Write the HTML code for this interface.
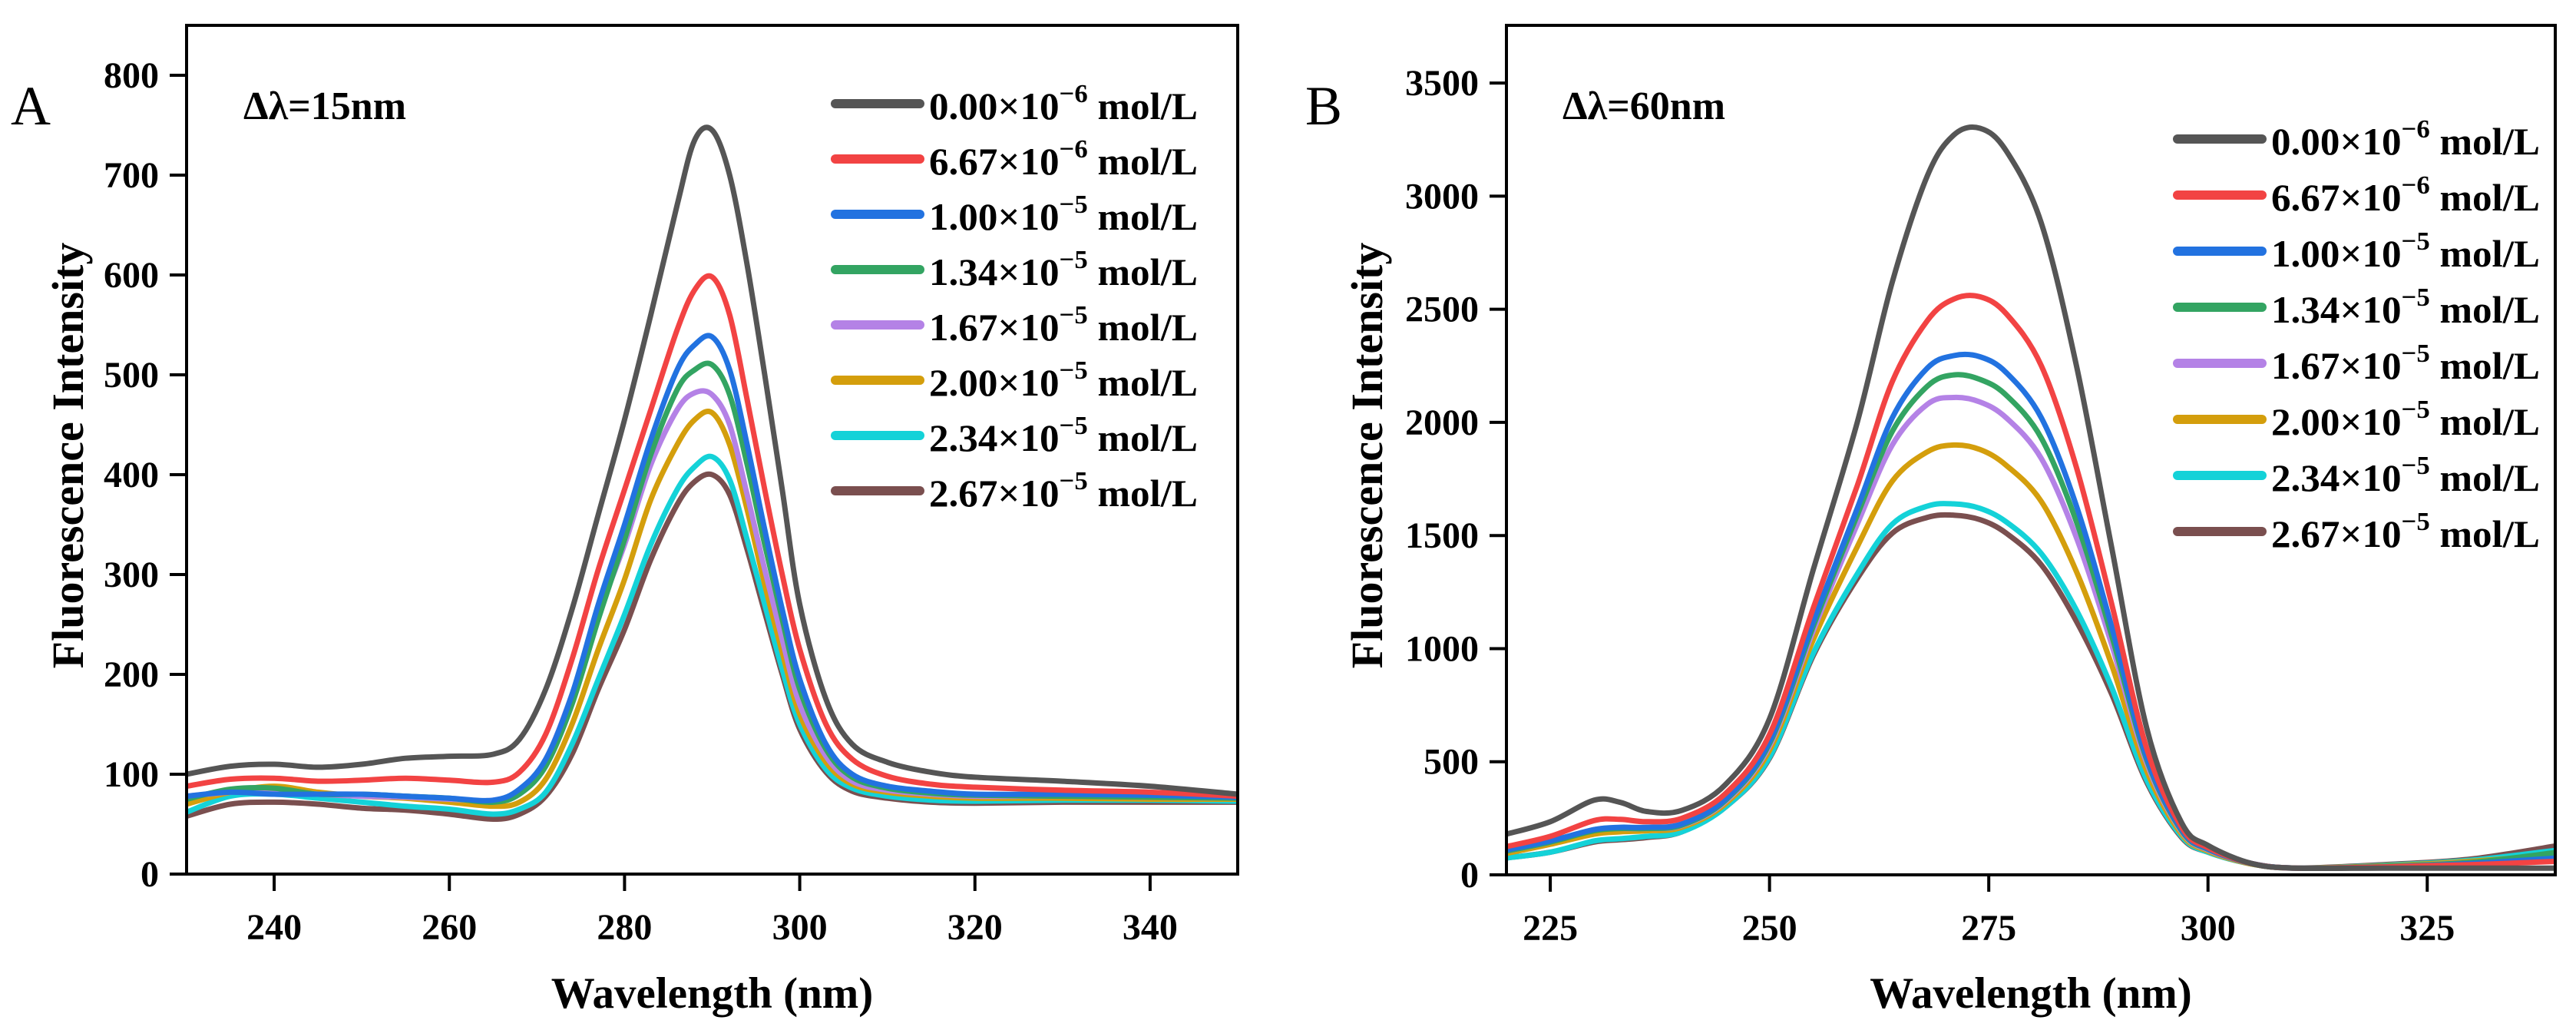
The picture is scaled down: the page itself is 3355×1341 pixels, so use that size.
<!DOCTYPE html>
<html><head><meta charset="utf-8"><style>
html,body{margin:0;padding:0;background:#fff}
svg{display:block;font-family:"Liberation Serif",serif}
</style></head><body>
<svg id="chart" width="3355" height="1341" viewBox="0 0 3355 1341" xmlns="http://www.w3.org/2000/svg">
<g id="root"></g>
</svg>
<script>
// ---------- Panel A data ----------
const xA = [230,235,240,245,250,255,260,265,268,271,274,277,280,283,286,288,290,292,294,296,298,300,303,306,310,315,320,330,340,350];
const a0 = [100,108,110,107,110,116,118,120,135,185,265,360,455,560,670,735,745,700,610,500,385,270,175,130,112,102,97,93,88,80];
const a1 = [88,95,96,93,94,96,94,92,102,140,215,305,385,465,545,585,598,560,475,385,300,225,150,115,98,90,87,84,82,78];
const a2 = [78,82,80,80,80,78,76,74,85,115,180,270,350,435,505,530,538,505,430,345,265,195,130,100,88,83,80,80,79,77];
const a3 = [75,85,86,80,80,78,76,72,80,108,170,255,335,420,485,505,510,480,410,330,255,185,125,97,86,81,79,78,77,76];
const a4 = [78,82,84,80,78,77,75,74,84,115,180,260,330,410,465,482,480,450,380,305,235,170,118,93,84,80,78,78,77,76];
const a5 = [70,82,88,82,78,76,72,68,72,95,150,225,295,375,430,455,462,430,365,290,222,160,112,90,82,78,76,76,75,75];
const a6 = [62,78,80,76,72,68,65,60,65,82,130,195,260,330,385,408,418,395,335,270,205,150,105,86,78,74,73,74,74,73];
const a7 = [58,70,72,70,66,64,60,55,60,78,120,185,245,315,370,393,400,380,325,262,200,145,102,83,76,72,71,72,72,72];
const xTicksA = [240,260,280,300,320,340];
const yTicksA = [0,100,200,300,400,500,600,700,800];
// ---------- Panel B data ----------
const xB = [220,225,230,233,236,240,245,250,255,260,264,268,271,274,277,281,285,289,293,297,300,305,310,320,330,340];
const b0 = [180,235,330,320,280,285,400,690,1350,2000,2620,3090,3270,3300,3200,2880,2250,1450,650,230,130,50,30,30,30,30];
const b1 = [125,170,240,245,235,250,360,620,1180,1720,2180,2450,2545,2555,2480,2250,1800,1200,560,210,120,50,30,35,45,60];
const b2 = [110,150,200,210,210,225,335,590,1120,1620,2020,2240,2295,2290,2220,2020,1630,1100,520,200,115,50,30,35,50,75];
const b3 = [105,145,195,205,205,220,330,580,1100,1590,1960,2160,2210,2190,2120,1930,1560,1060,510,195,113,50,30,38,55,100];
const b4 = [105,145,200,205,205,218,325,570,1080,1550,1900,2080,2110,2090,2020,1840,1490,1020,495,190,110,50,30,38,55,85];
const b5 = [95,135,180,190,195,210,315,550,1040,1450,1740,1870,1900,1880,1810,1650,1340,930,460,180,105,48,30,40,60,90];
const b6 = [75,100,150,160,170,190,300,520,980,1330,1550,1630,1640,1620,1560,1420,1170,830,420,170,100,48,30,42,65,110];
const b7 = [75,100,145,155,165,190,300,515,970,1310,1510,1580,1590,1570,1510,1370,1120,800,410,165,100,48,30,45,70,130];
const xTicksB = [225,250,275,300,325];
const yTicksB = [0,500,1000,1500,2000,2500,3000,3500];
// ---------- legend ----------
const legendMant = ["0.00","6.67","1.00","1.34","1.67","2.00","2.34","2.67"];
const legendExp = ["−6","−6","−5","−5","−5","−5","−5","−5"];
const colors = ["#555555","#f24343","#2272e0","#33a462","#b482e6","#d49e0c","#14d2d8","#7a4f4f"];

const NS="http://www.w3.org/2000/svg";
const root=document.getElementById('root');
function mk(tag,attrs,parent){const e=document.createElementNS(NS,tag);for(const k in attrs)e.setAttribute(k,attrs[k]);(parent||root).appendChild(e);return e;}
function smooth(pts){let d="M"+pts[0][0].toFixed(1)+","+pts[0][1].toFixed(1);
 for(let i=0;i<pts.length-1;i++){const p0=pts[i-1]||pts[i],p1=pts[i],p2=pts[i+1],p3=pts[i+2]||p2;
  const c1=[p1[0]+(p2[0]-p0[0])/6,p1[1]+(p2[1]-p0[1])/6],c2=[p2[0]-(p3[0]-p1[0])/6,p2[1]-(p3[1]-p1[1])/6];
  d+=" C"+c1[0].toFixed(1)+","+c1[1].toFixed(1)+" "+c2[0].toFixed(1)+","+c2[1].toFixed(1)+" "+p2[0].toFixed(1)+","+p2[1].toFixed(1);}
 return d;}

function panel(cfg){
 const g=mk('g',{});
 
 
 const sx=v=>cfg.L+(v-cfg.x0)/(cfg.x1-cfg.x0)*(cfg.R-cfg.L);
 const sy=v=>cfg.B-(v-cfg.y0)/(cfg.y1-cfg.y0)*(cfg.B-cfg.T);
 const cp=mk('clipPath',{id:cfg.name+'-clip'},g);
 mk('rect',{x:cfg.L,y:cfg.T,width:cfg.R-cfg.L,height:cfg.B-cfg.T},cp);
 const sg=mk('g',{'clip-path':'url(#'+cfg.name+'-clip)'},g);
 for(let s=cfg.series.length-1;s>=0;s--){
  const pts=cfg.xs.map((x,i)=>[sx(x),sy(cfg.series[s][i])]);
  const p=mk('path',{d:smooth(pts),fill:'none',stroke:colors[s],'stroke-width':7,'stroke-linejoin':'round'},sg);
  
  
 }
 const fr=mk('rect',{x:cfg.L,y:cfg.T,width:cfg.R-cfg.L,height:cfg.B-cfg.T,fill:'none',stroke:'#000','stroke-width':4},g);
 
 
 cfg.xt.forEach(v=>{const x=sx(v);
  mk('line',{x1:x,y1:cfg.B,x2:x,y2:cfg.B+22,stroke:'#000','stroke-width':4},g);
  const t=mk('text',{x:x,y:cfg.B+85,'text-anchor':'middle','font-size':48,'font-weight':'bold'},g);t.textContent=v;
  
  });
 cfg.yt.forEach(v=>{const y=sy(v);
  mk('line',{x1:cfg.L-22,y1:y,x2:cfg.L,y2:y,stroke:'#000','stroke-width':4},g);
  const t=mk('text',{x:cfg.L-36,y:y+16,'text-anchor':'end','font-size':48,'font-weight':'bold'},g);t.textContent=v;
  
  });
 const xl=mk('text',{x:(cfg.L+cfg.R)/2,y:1312,'text-anchor':'middle','font-size':57,'font-weight':'bold'},g);xl.textContent='Wavelength (nm)';
 
 
 const yl=mk('text',{x:0,y:0,transform:'translate('+cfg.ylx+',593) rotate(-90)','text-anchor':'middle','font-size':58,'font-weight':'bold'},g);yl.textContent='Fluorescence Intensity';
 
 
 const pl=mk('text',{x:cfg.plx,y:162,'font-size':72},g);pl.textContent=cfg.letter;
 
 
 const an=mk('text',{x:cfg.anx,y:155,'font-size':52,'font-weight':'bold'},g);an.textContent=cfg.note;
 
 
 for(let i=0;i<legendMant.length;i++){
  const y=cfg.legY+i*cfg.legDy;
  const le=mk('g',{},g);
  
  
  mk('line',{x1:cfg.legX,y1:y,x2:cfg.legX+110,y2:y,stroke:colors[i],'stroke-width':12,'stroke-linecap':'round'},le);
  const t=mk('text',{x:cfg.legX+122,y:y+20,'font-size':50,'font-weight':'bold',textLength:350,lengthAdjust:'spacingAndGlyphs'},le);
  const t1=mk('tspan',{},t);t1.textContent=legendMant[i]+'×10';
  const t2=mk('tspan',{dy:-22,'font-size':34},t);t2.textContent=legendExp[i];
  const t3=mk('tspan',{dy:22},t);t3.textContent=' mol/L';
 }
}
panel({name:'panel-a',L:243,R:1612,T:33,B:1138,x0:230,x1:350,y0:0,y1:850,xs:xA,series:[a0,a1,a2,a3,a4,a5,a6,a7],
 xt:xTicksA,yt:yTicksA,ylx:108,plx:14,letter:'A',anx:317,note:'Δλ=15nm',legX:1088,legY:135,legDy:72});
panel({name:'panel-b',L:1962,R:3328,T:33,B:1139,x0:220,x1:339.6,y0:0,y1:3755,xs:xB,series:[b0,b1,b2,b3,b4,b5,b6,b7],
 xt:xTicksB,yt:yTicksB,ylx:1800,plx:1700,letter:'B',anx:2035,note:'Δλ=60nm',legX:2836,legY:181,legDy:73});
</script>
</body></html>
